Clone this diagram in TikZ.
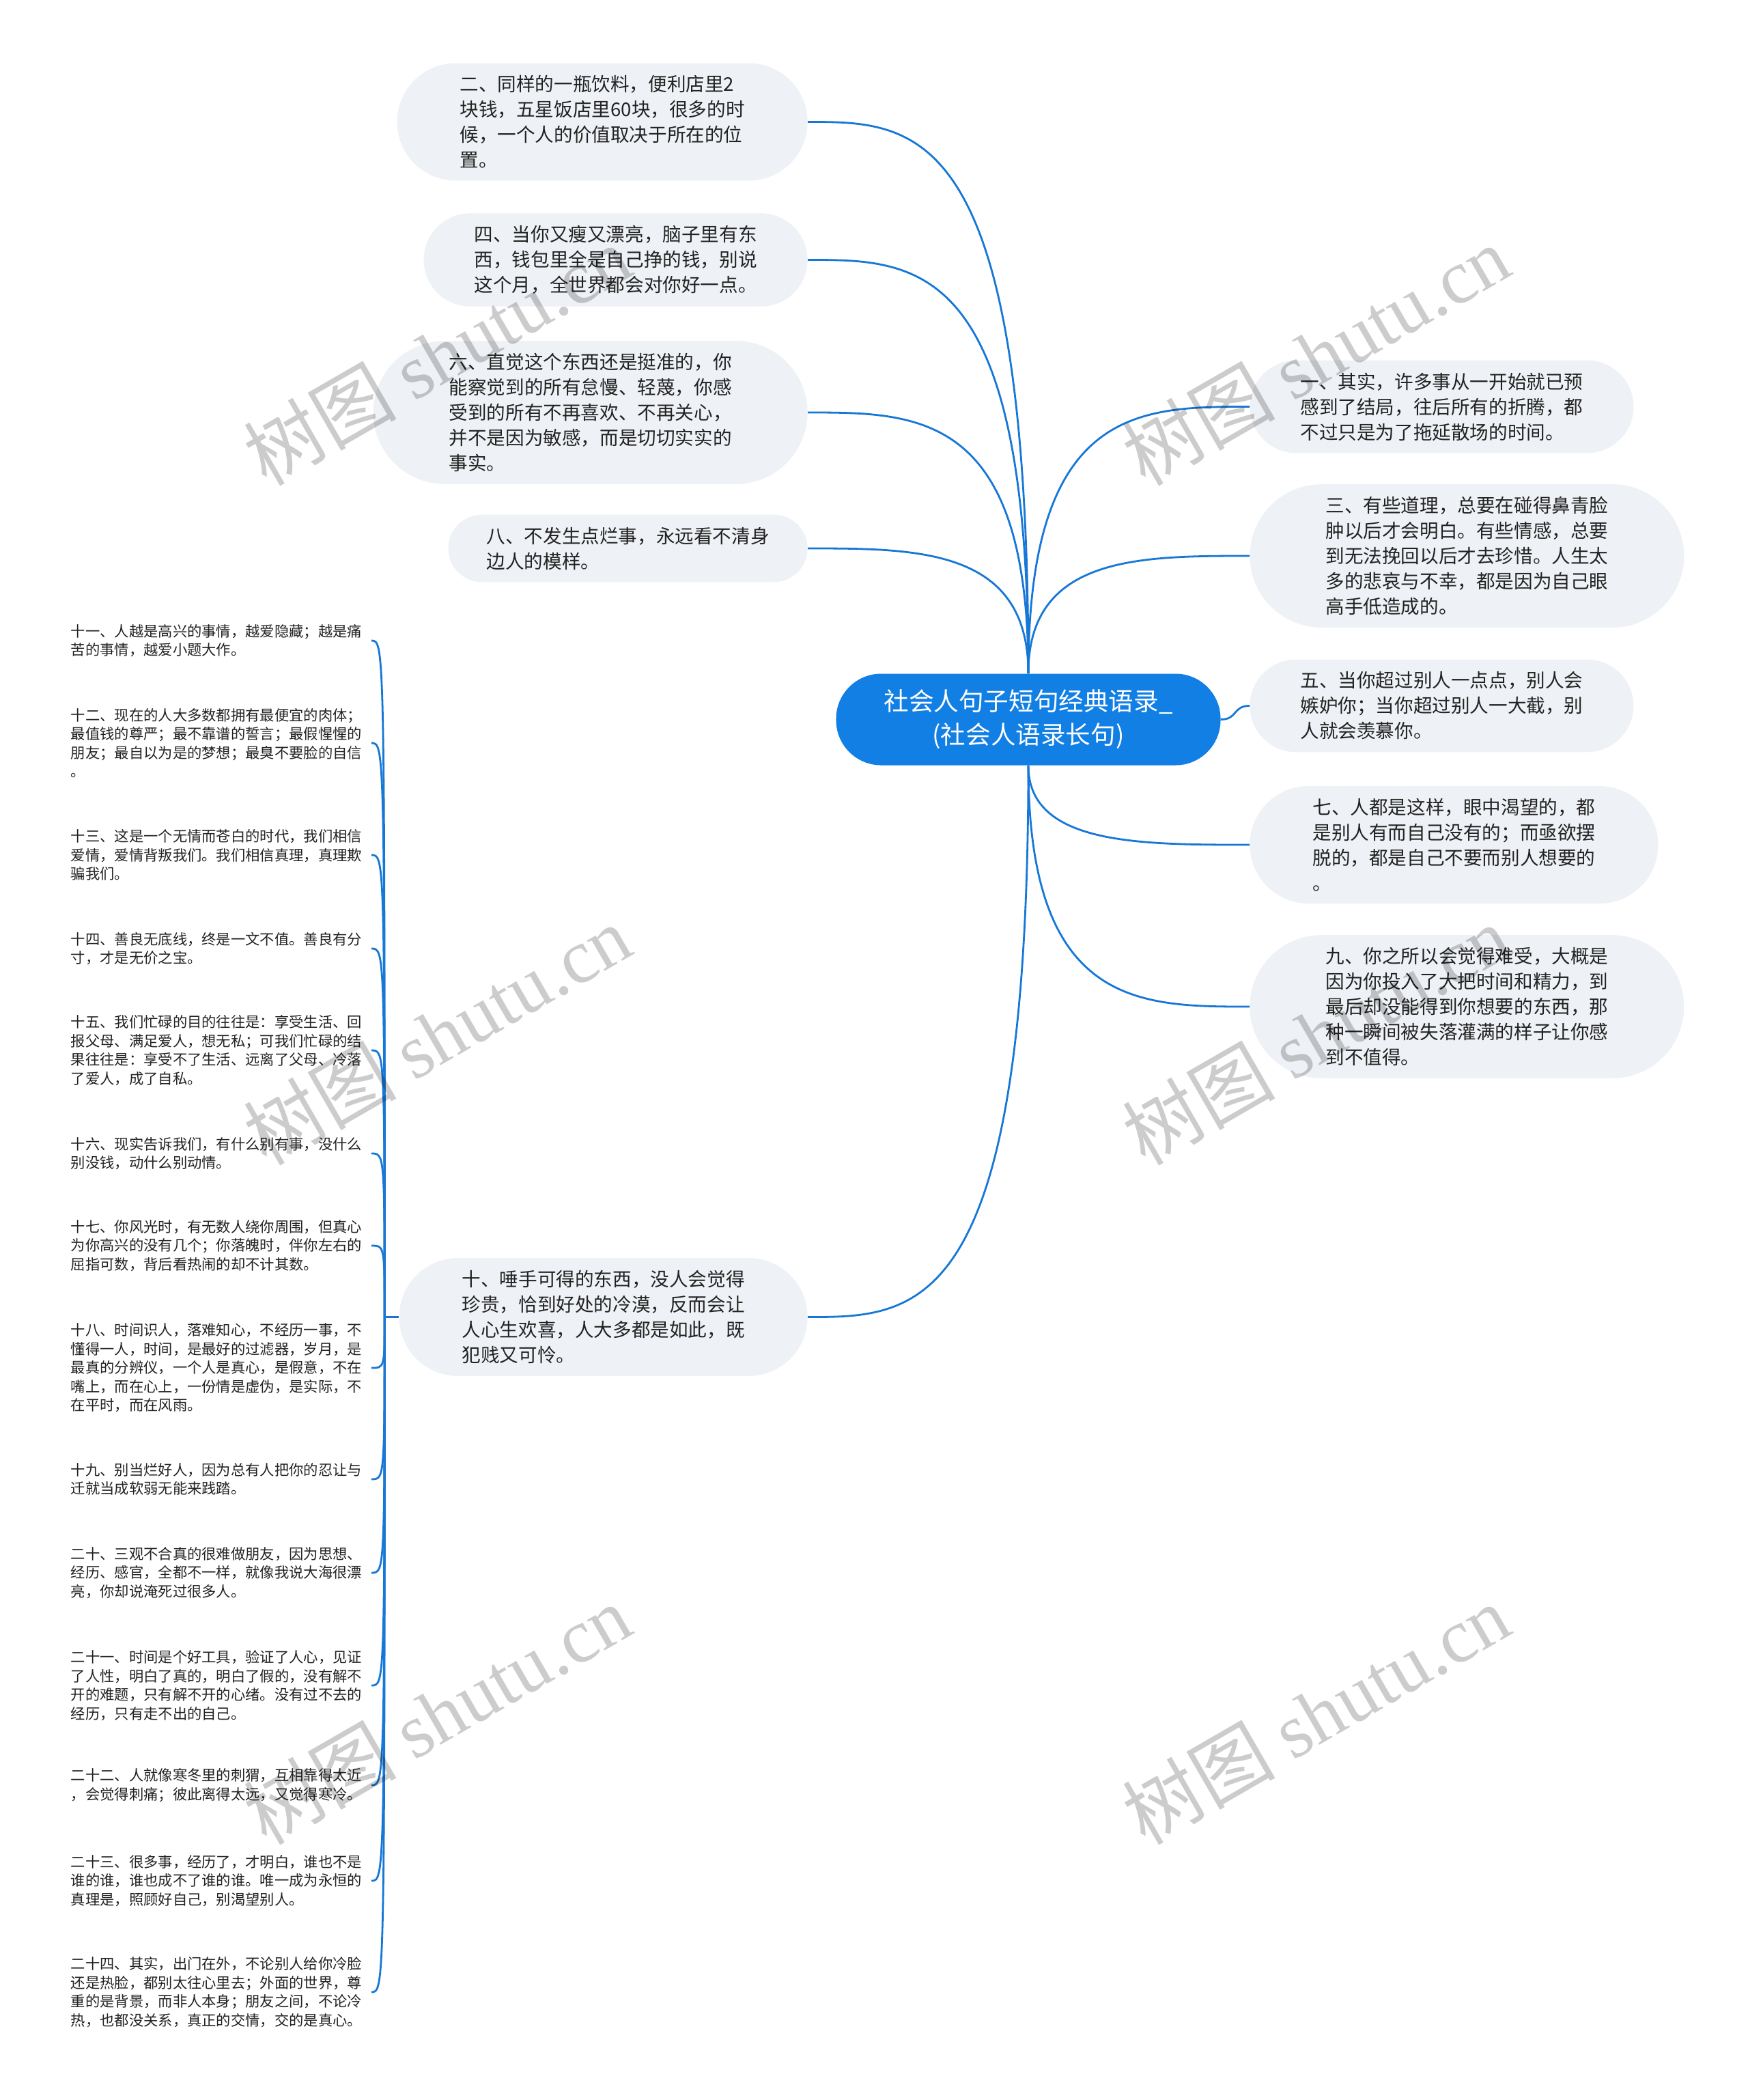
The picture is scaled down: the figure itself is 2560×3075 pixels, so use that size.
\documentclass[tikz,border=0pt]{standalone}
\usepackage{fontspec}
\setmainfont{Noto Sans CJK SC}
\newfontfamily\wmlatin{Liberation Serif}
\usetikzlibrary{calc}
\definecolor{linkblue}{RGB}{22,119,214}
\definecolor{pillgray}{RGB}{238,241,245}
\definecolor{rootblue}{RGB}{18,127,228}
\definecolor{txtdark}{RGB}{34,34,34}
\begin{document}
\begin{tikzpicture}[x=0.5pt,y=-0.5pt,
  pill/.style={rectangle, fill=pillgray, draw=none, inner ysep=9pt, align=left, text=txtdark, font=\fontsize{13.8pt}{18.5pt}\selectfont},
  pilltwo/.style={pill, rounded corners=24.5pt, inner xsep=28pt},
  pillthree/.style={pill, rounded corners=34pt, inner xsep=37pt},
  pillfour/.style={pill, rounded corners=43pt, inner xsep=46pt},
  pillfive/.style={pill, rounded corners=52.5pt, inner xsep=55.5pt},
  leaf/.style={rectangle, inner xsep=3.25pt, inner ysep=2pt, text width=216.5pt, align=left, text=txtdark, font=\fontsize{10.65pt}{13.75pt}\selectfont, anchor=west},
  root/.style={rectangle, rounded corners=33pt, fill=rootblue, draw=none, text=white, inner xsep=35pt, inner ysep=11.75pt, align=center, font=\fontsize{18.3pt}{24.5pt}\selectfont},
  conn/.style={draw=linkblue, line width=1.4pt},
  wm/.style={text=black, text opacity=0.2, rotate=30, font=\fontsize{56pt}{60pt}\selectfont}
]
\fill[white] (0,0) rectangle (2560,3075);
\useasboundingbox (0,0) rectangle (2560,3075);

% root
\node[root] (root) at (1506,1053.5) {社会人句子短句经典语录\_\\(社会人语录长句)};

% left branches
\node[pillfour, anchor=east] (n2) at (1183,178.5) {二、同样的一瓶饮料，便利店里2\\块钱，五星饭店里60块，很多的时\\候，一个人的价值取决于所在的位\\置。};
\node[pillthree, anchor=east] (n4) at (1183,380.5) {四、当你又瘦又漂亮，脑子里有东\\西，钱包里全是自己挣的钱，别说\\这个月，全世界都会对你好一点。};
\node[pillfive, anchor=east] (n6) at (1183,604) {六、直觉这个东西还是挺准的，你\\能察觉到的所有怠慢、轻蔑，你感\\受到的所有不再喜欢、不再关心，\\并不是因为敏感，而是切切实实的\\事实。};
\node[pilltwo, anchor=east] (n8) at (1183,803) {八、不发生点烂事，永远看不清身\\边人的模样。};
\node[pillfour, anchor=east] (n10) at (1183,1928.5) {十、唾手可得的东西，没人会觉得\\珍贵，恰到好处的冷漠，反而会让\\人心生欢喜，人大多都是如此，既\\犯贱又可怜。};

% right branches
\node[pillthree, anchor=west] (n1) at (1830,595.5) {一、其实，许多事从一开始就已预\\感到了结局，往后所有的折腾，都\\不过只是为了拖延散场的时间。};
\node[pillfive, anchor=west] (n3) at (1830,814) {三、有些道理，总要在碰得鼻青脸\\肿以后才会明白。有些情感，总要\\到无法挽回以后才去珍惜。人生太\\多的悲哀与不幸，都是因为自己眼\\高手低造成的。};
\node[pillthree, anchor=west] (n5) at (1830,1033.5) {五、当你超过别人一点点，别人会\\嫉妒你；当你超过别人一大截，别\\人就会羡慕你。};
\node[pillfour, anchor=west] (n7) at (1830,1237) {七、人都是这样，眼中渴望的，都\\是别人有而自己没有的；而亟欲摆\\脱的，都是自己不要而别人想要的\\。};
\node[pillfive, anchor=west] (n9) at (1830,1474) {九、你之所以会觉得难受，大概是\\因为你投入了大把时间和精力，到\\最后却没能得到你想要的东西，那\\种一瞬间被失落灌满的样子让你感\\到不值得。};

% leaves
\node[leaf] (l11) at (97,938) {十一、人越是高兴的事情，越爱隐藏；越是痛\\苦的事情，越爱小题大作。};
\node[leaf] (l12) at (97,1088) {十二、现在的人大多数都拥有最便宜的肉体；\\最值钱的尊严；最不靠谱的誓言；最假惺惺的\\朋友；最自以为是的梦想；最臭不要脸的自信\\。};
\node[leaf] (l13) at (97,1252) {十三、这是一个无情而苍白的时代，我们相信\\爱情，爱情背叛我们。我们相信真理，真理欺\\骗我们。};
\node[leaf] (l14) at (97,1389) {十四、善良无底线，终是一文不值。善良有分\\寸，才是无价之宝。};
\node[leaf] (l15) at (97,1538) {十五、我们忙碌的目的往往是：享受生活、回\\报父母、满足爱人，想无私；可我们忙碌的结\\果往往是：享受不了生活、远离了父母、冷落\\了爱人，成了自私。};
\node[leaf] (l16) at (97,1689) {十六、现实告诉我们，有什么别有事，没什么\\别没钱，动什么别动情。};
\node[leaf] (l17) at (97,1824) {十七、你风光时，有无数人绕你周围，但真心\\为你高兴的没有几个；你落魄时，伴你左右的\\屈指可数，背后看热闹的却不计其数。};
\node[leaf] (l18) at (97,2003) {十八、时间识人，落难知心，不经历一事，不\\懂得一人，时间，是最好的过滤器，岁月，是\\最真的分辨仪，一个人是真心，是假意，不在\\嘴上，而在心上，一份情是虚伪，是实际，不\\在平时，而在风雨。};
\node[leaf] (l19) at (97,2166) {十九、别当烂好人，因为总有人把你的忍让与\\迁就当成软弱无能来践踏。};
\node[leaf] (l20) at (97,2303) {二十、三观不合真的很难做朋友，因为思想、\\经历、感官，全都不一样，就像我说大海很漂\\亮，你却说淹死过很多人。};
\node[leaf] (l21) at (97,2468) {二十一、时间是个好工具，验证了人心，见证\\了人性，明白了真的，明白了假的，没有解不\\开的难题，只有解不开的心绪。没有过不去的\\经历，只有走不出的自己。};
\node[leaf] (l22) at (97,2614) {二十二、人就像寒冬里的刺猬，互相靠得太近\\，会觉得刺痛；彼此离得太远，又觉得寒冷。};
\node[leaf] (l23) at (97,2754) {二十三、很多事，经历了，才明白，谁也不是\\谁的谁，谁也成不了谁的谁。唯一成为永恒的\\真理是，照顾好自己，别渴望别人。};
\node[leaf] (l24) at (97,2917) {二十四、其实，出门在外，不论别人给你冷脸\\还是热脸，都别太往心里去；外面的世界，尊\\重的是背景，而非人本身；朋友之间，不论冷\\热，也都没关系，真正的交情，交的是真心。};

% connectors root -> branches
\foreach \n in {n2,n4,n6,n8}
  \draw[conn] (root.north) .. controls (root.north |- \n.east) and ($(root.north |- \n.east)!0.5!(\n.east)$) .. (\n.east);
\foreach \n in {n1,n3}
  \draw[conn] (root.north) .. controls (root.north |- \n.west) and ($(root.north |- \n.west)!0.5!(\n.west)$) .. (\n.west);
\foreach \n in {n7,n9}
  \draw[conn] (root.south) .. controls (root.south |- \n.west) and ($(root.south |- \n.west)!0.5!(\n.west)$) .. (\n.west);
\draw[conn] (root.south) .. controls (root.south |- n10.east) and ($(root.south |- n10.east)!0.5!(n10.east)$) .. (n10.east);
\draw[conn] (root.east) .. controls ($(root.east)+(25,0)$) and ($(n5.west)+(-25,0)$) .. (n5.west);

% stem to leaves
\coordinate (stem) at ($(n10.west)+(-21,0)$);
\draw[conn] (n10.west) -- (stem);
\foreach \l in {l11,l12,l13,l14,l15,l16,l17,l18,l19,l20,l21,l22,l23,l24}
  \draw[conn] (stem) .. controls (stem |- \l.east) .. (\l.east);

% watermarks
\foreach \p [count=\i] in {(640,520),(1927,520),(640,1515),(1927,1515),(640,2510),(1927,2510)}
  \node[wm] (wm\i) at \p {树图 {\wmlatin shutu.cn}};
\end{tikzpicture}
\end{document}
